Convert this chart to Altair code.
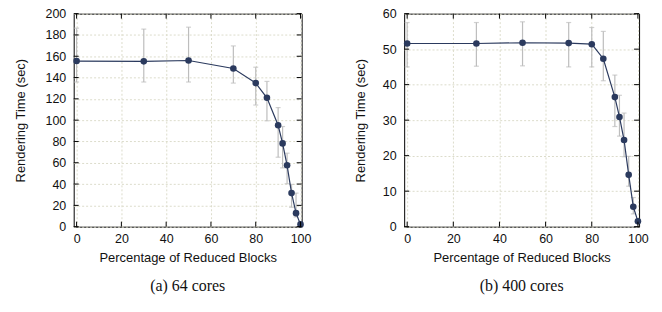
import altair as alt
import pandas as pd

x_pct = [0, 30, 50, 70, 80, 85, 90, 92, 94, 96, 98, 100]

t64 = [155.5, 155.2, 156.0, 148.5, 134.8, 121.0, 95.2, 78.2, 57.6, 31.5, 12.7, 2.1]
lo64 = [135.8, 135.8, 135.8, 134.8, 114.2, 99.4, 65.2, 55.2, 40.3, 18.2, 9.1, 0.8]
hi64 = [186.4, 185.5, 187.3, 169.7, 149.7, 136.4, 111.8, 94.0, 69.0, 39.7, 31.5, 3.5]

t400 = [51.6, 51.6, 51.8, 51.7, 51.4, 47.3, 36.5, 30.9, 24.4, 14.6, 5.6, 1.5]
lo400 = [45.0, 45.2, 45.3, 45.0, 45.0, 41.1, 28.2, 25.5, 19.7, 11.4, 3.6, 1.1]
hi400 = [57.5, 57.5, 57.7, 57.5, 56.1, 55.0, 42.7, 37.0, 32.0, 19.8, 8.2, 1.9]

x_ticks = [0, 20, 40, 60, 80, 100]
y_ticks64 = [0, 20, 40, 60, 80, 100, 120, 140, 160, 180, 200]
y_ticks400 = [0, 10, 20, 30, 40, 50, 60]

NAVY = "#2b3a5e"
GRAY = "#bdbdbd"
SANS = "Liberation Sans"


def panel(t, lo, hi, yticks, ymax, w, h, title_pad, caption):
    df = pd.DataFrame({"x": x_pct, "t": t, "lo": lo, "hi": hi})
    xs = alt.Scale(domain=[-1.3, 100.5], nice=False, zero=False)
    ys = alt.Scale(domain=[0, ymax], nice=False)
    xax = alt.Axis(values=x_ticks, ticks=False, domain=False, grid=True,
                   gridColor="#dcdccb", gridDash=[2, 2], labelPadding=6,
                   labelOverlap=False,
                   labelFont=SANS, labelFontSize=12.5, labelColor="#111",
                   titleFont=SANS, titleFontSize=13, titleFontWeight="normal",
                   titleColor="#111", titlePadding=7,
                   title="Percentage of Reduced Blocks")
    yax = alt.Axis(values=yticks, ticks=False, domain=False, grid=True,
                   gridColor="#dcdccb", gridDash=[2, 2], labelPadding=8,
                   labelOverlap=False,
                   labelFont=SANS, labelFontSize=12.5, labelColor="#111",
                   titleFont=SANS, titleFontSize=13, titleFontWeight="normal",
                   titleColor="#111", titlePadding=title_pad,
                   title="Rendering Time (sec)")

    def X(f):
        return alt.X(f, scale=xs, axis=xax)

    def Y(f):
        return alt.Y(f, scale=ys, axis=yax)

    base = alt.Chart(df)
    bars = base.mark_rule(color=GRAY, strokeWidth=1.2).encode(
        x=X("x:Q"), y=Y("lo:Q"), y2="hi:Q")
    cap_lo = base.mark_tick(color=GRAY, orient="horizontal", size=5, thickness=1.2).encode(
        x=X("x:Q"), y=Y("lo:Q"))
    cap_hi = base.mark_tick(color=GRAY, orient="horizontal", size=5, thickness=1.2).encode(
        x=X("x:Q"), y=Y("hi:Q"))
    line = base.mark_line(color=NAVY, strokeWidth=1.2).encode(
        x=X("x:Q"), y=Y("t:Q"))
    pts = base.mark_circle(color=NAVY, size=44, opacity=1).encode(
        x=X("x:Q"), y=Y("t:Q"))

    xt = alt.Chart(pd.DataFrame({"v": x_ticks}))
    yt = alt.Chart(pd.DataFrame({"v": yticks}))
    tl = 5
    tick_b = xt.mark_rule(color="black").encode(
        x=X("v:Q"), y=alt.value(h), y2=alt.value(h - tl))
    tick_t = xt.mark_rule(color="black").encode(
        x=X("v:Q"), y=alt.value(0), y2=alt.value(tl))
    tick_l = yt.mark_rule(color="black").encode(
        y=Y("v:Q"), x=alt.value(0), x2=alt.value(tl))
    tick_r = yt.mark_rule(color="black").encode(
        y=Y("v:Q"), x=alt.value(w - tl), x2=alt.value(w))

    return alt.layer(bars, cap_lo, cap_hi, line, pts, tick_b, tick_t, tick_l, tick_r).properties(
        width=w, height=h,
        title=alt.TitleParams(caption, orient="bottom", anchor="middle",
                              font="Liberation Serif", fontSize=16,
                              fontWeight="normal", color="#111", offset=13),
    )


left = panel(t64, lo64, hi64, y_ticks64, 200, 229, 214, 18, "(a) 64 cores")
right = panel(t400, lo400, hi400, y_ticks400, 60, 236, 214, 15, "(b) 400 cores")

chart = alt.hconcat(left, right, spacing=42).configure_view(
    stroke="black", strokeWidth=1
).properties(padding={"left": 5, "top": -2, "right": 5, "bottom": 5})

chart.save("out.html", embed_options={"renderer": "svg", "actions": False})
